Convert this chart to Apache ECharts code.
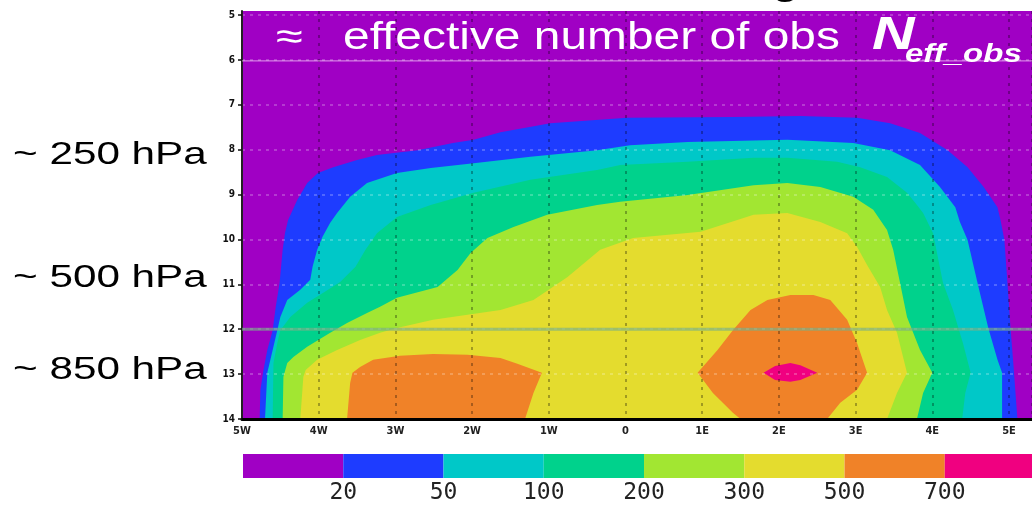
<!DOCTYPE html>
<html>
<head>
<meta charset="utf-8">
<script src="https://cdn.jsdelivr.net/npm/echarts@6/dist/echarts.min.js"></script>
<style>
  html, body { margin: 0; padding: 0; background: #fff; }
  #main { width: 1032px; height: 505px; }
</style>
</head>
<body>
<div id="main"></div>
<script>
// axis ticks
var lonTicks = [-5, -4, -3, -2, -1, 0, 1, 2, 3, 4, 5];
var lonLabels = ['5W', '4W', '3W', '2W', '1W', '0', '1E', '2E', '3E', '4E', '5E'];
var levelTicks = [5, 6, 7, 8, 9, 10, 11, 12, 13, 14];

// colour bar
var contourLevels = ['20', '50', '100', '200', '300', '500', '700'];
var binColors = ['#a000c4', '#1e3cff', '#00c8c8', '#00d28c', '#a2e632', '#e4dc2e', '#f08228', '#f00080'];

// contour outlines, [lon, model level]
var n20 = [[-4.77,14],[-4.76,13.35],[-4.72,12.91],[-4.67,12.46],[-4.60,12.02],[-4.56,11.50],[-4.51,10.97],[-4.47,10.23],
  [-4.44,9.86],[-4.40,9.57],[-4.28,9.12],[-4.15,8.74],[-4.01,8.52],[-3.81,8.39],[-3.50,8.23],[-3.24,8.12],[-2.71,8.01],
  [-2.25,7.85],[-1.98,7.78],[-1.63,7.61],[-0.98,7.41],[0.02,7.29],[1.40,7.27],[2.28,7.25],[3.02,7.29],[3.45,7.41],
  [3.84,7.63],[4.20,8.01],[4.46,8.39],[4.67,8.83],[4.85,9.28],[4.89,9.57],[4.94,10.01],[4.98,10.97],[5.02,11.97],
  [5.06,12.84],[5.11,14]];
var n50 = [[-4.70,14],[-4.67,12.97],[-4.60,12.46],[-4.54,12.02],[-4.50,11.73],[-4.41,11.35],[-4.24,11.12],[-4.11,10.90],
  [-4.08,10.61],[-4.02,10.23],[-3.95,9.94],[-3.85,9.63],[-3.76,9.41],[-3.59,9.05],[-3.37,8.74],[-2.98,8.52],[-2.54,8.41],
  [-1.98,8.30],[-1.24,8.16],[-0.37,8.01],[0.06,7.90],[0.81,7.83],[2.11,7.78],[2.97,7.85],[3.45,8.01],[3.84,8.34],
  [4.10,8.83],[4.30,9.28],[4.36,9.61],[4.46,10.01],[4.59,10.97],[4.73,11.97],[4.85,12.68],[4.91,12.97],[4.91,14]];
var n100 = [[-4.60,14],[-4.59,12.75],[-4.54,12.31],[-4.50,12.02],[-4.37,11.73],[-4.15,11.41],[-3.94,11.19],[-3.72,10.95],
  [-3.52,10.61],[-3.39,10.23],[-3.24,9.86],[-2.98,9.50],[-2.54,9.23],[-1.98,8.96],[-1.24,8.67],[-0.37,8.45],[-0.07,8.34],
  [0.81,8.27],[1.67,8.18],[2.11,8.18],[2.76,8.27],[3.06,8.39],[3.41,8.61],[3.67,8.96],[3.80,9.23],[3.88,9.41],
  [4.01,9.86],[4.14,10.97],[4.27,11.57],[4.40,12.31],[4.50,12.97],[4.43,13.42],[4.39,14]];
var n200 = [[-4.47,14],[-4.46,13.06],[-4.41,12.75],[-4.33,12.62],[-4.15,12.39],[-3.85,12.08],[-3.63,11.86],[-3.37,11.64],
  [-3.20,11.50],[-2.98,11.30],[-2.45,11.06],[-2.19,10.68],[-2.02,10.30],[-1.80,9.97],[-1.46,9.72],[-1.02,9.45],
  [-0.37,9.23],[-0.07,9.16],[0.81,9.01],[1.67,8.79],[2.11,8.74],[2.54,8.83],[2.97,9.05],[3.23,9.34],[3.41,9.79],
  [3.49,10.23],[3.58,10.97],[3.67,11.73],[3.84,12.46],[4.00,12.97],[3.88,13.42],[3.80,14]];
var n300 = [[-4.24,14],[-4.20,13.06],[-4.17,12.91],[-4.02,12.68],[-3.76,12.46],[-3.46,12.24],[-3.20,12.08],[-2.98,11.97],
  [-2.51,11.79],[-2.06,11.68],[-1.63,11.57],[-1.20,11.35],[-0.76,10.84],[-0.33,10.23],[0.10,9.97],[0.98,9.83],
  [1.67,9.45],[2.11,9.41],[2.54,9.61],[2.89,9.86],[3.02,10.17],[3.15,10.57],[3.32,11.06],[3.41,11.57],[3.54,12.08],
  [3.67,12.97],[3.54,13.42],[3.41,14]];
var n500west = [[-3.63,14],[-3.59,13.20],[-3.56,12.97],[-3.46,12.84],[-3.29,12.68],[-2.94,12.59],[-2.51,12.55],
  [-2.06,12.57],[-1.63,12.64],[-1.41,12.77],[-1.09,12.97],[-1.20,13.42],[-1.31,14]];
var n500east = [[1.50,14],[1.40,13.86],[1.14,13.42],[0.94,12.97],[1.20,12.46],[1.40,12.02],[1.63,11.57],[1.85,11.35],
  [2.15,11.24],[2.45,11.24],[2.67,11.35],[2.89,11.79],[3.02,12.31],[3.15,12.97],[3.02,13.35],[2.80,13.64],[2.63,14]];
var n700 = [[1.80,12.97],[1.95,12.82],[2.15,12.75],[2.28,12.80],[2.50,12.97],[2.28,13.13],[2.15,13.17],[1.95,13.13]];

// stray lines over the panel
var overlayLevels = [6.02, 12.0];

var myChart = echarts.init(document.getElementById('main'));

function polySeries(pts, color) {
    return {
        type: 'custom',
        xAxisIndex: 0,
        yAxisIndex: 0,
        silent: true,
        z: 1,
        data: pts,
        encode: { x: 0, y: 1 },
        renderItem: function (params, api) {
            if (params.dataIndex !== 0) return null;
            var points = pts.map(function (p) { return api.coord(p); });
            return { type: 'polygon', shape: { points: points }, style: { fill: color } };
        }
    };
}

var series = [
    polySeries(n20, binColors[1]),
    polySeries(n50, binColors[2]),
    polySeries(n100, binColors[3]),
    polySeries(n200, binColors[4]),
    polySeries(n300, binColors[5]),
    polySeries(n500west, binColors[6]),
    polySeries(n500east, binColors[6]),
    polySeries(n700, binColors[7])
];

// overlay lines
series.push({
    type: 'custom',
    xAxisIndex: 0,
    yAxisIndex: 0,
    silent: true,
    z: 10,
    data: overlayLevels.map(function (v, i) { return [i, v]; }),
    renderItem: function (params, api) {
        var lv = api.value(1);
        var a = api.coord([-5, lv]);
        var b = api.coord([5.3, lv]);
        var first = params.dataIndex === 0;
        return {
            type: 'line',
            shape: { x1: a[0], y1: a[1], x2: b[0], y2: b[1] },
            style: {
                stroke: first ? 'rgba(255,225,255,0.55)' : 'rgba(120,175,135,0.65)',
                lineWidth: first ? 1.2 : 3
            }
        };
    }
});

// colour bar (the last box runs off the right edge)
series.push({
    type: 'custom',
    xAxisIndex: 1,
    yAxisIndex: 1,
    silent: true,
    clip: false,
    data: binColors.map(function (c, i) { return [i, 0]; }),
    renderItem: function (params, api) {
        var i = api.value(0);
        var p0 = api.coord([i, 1]);
        var p1 = api.coord([i + 1, 0]);
        return {
            type: 'rect',
            shape: { x: p0[0], y: p0[1], width: p1[0] - p0[0], height: p1[1] - p0[1] },
            style: { fill: binColors[i] }
        };
    }
});

var slideFont = 'Liberation Sans, Arial, sans-serif';

myChart.setOption({
    animation: false,
    grid: [
        { left: 242, right: 0, top: 11, bottom: 86, show: true, backgroundColor: binColors[0], borderWidth: 0 },
        { left: 243, right: 0, top: 454, height: 24 }
    ],
    xAxis: [{
        gridIndex: 0,
        type: 'value',
        min: -5,
        max: 5.3,
        interval: 1,
        z: 5,
        axisLine: { show: true, onZero: false, lineStyle: { color: '#000', width: 3 } },
        axisTick: { show: false },
        axisLabel: {
            showMaxLabel: false,
            margin: 7,
            fontFamily: 'DejaVu Sans Condensed',
            fontWeight: 'bold',
            fontSize: 11,
            color: '#222',
            formatter: function (v) {
                var k = lonTicks.indexOf(v);
                return k < 0 ? '' : lonLabels[k];
            }
        },
        splitLine: { show: true, lineStyle: { color: 'rgba(0,0,0,0.4)', width: 1.5, type: [3, 5] } }
    }, {
        gridIndex: 1,
        type: 'value',
        min: 0,
        max: 7.87,
        interval: 1,
        axisLine: { show: false },
        axisTick: { show: false },
        splitLine: { show: false },
        axisLabel: {
            showMaxLabel: false,
            margin: 4,
            fontFamily: 'DejaVu Sans Mono',
            fontSize: 23,
            color: '#222',
            formatter: function (v) { return contourLevels[v - 1] || ''; }
        }
    }],
    yAxis: [{
        gridIndex: 0,
        type: 'value',
        inverse: true,
        min: 4.91,
        max: 14,
        z: 5,
        axisLine: { show: true, onZero: false, lineStyle: { color: '#222', width: 2 } },
        axisTick: { show: true, customValues: levelTicks, length: 4, lineStyle: { color: '#111', width: 1.5 } },
        axisLabel: {
            customValues: levelTicks,
            margin: 7,
            fontFamily: 'DejaVu Sans Condensed',
            fontWeight: 'bold',
            fontSize: 10,
            color: '#111'
        },
        splitLine: {
            show: true,
            customValues: levelTicks,
            lineStyle: { color: 'rgba(255,255,255,0.3)', width: 1.5, type: [3, 5] }
        }
    }, {
        gridIndex: 1,
        type: 'value',
        min: 0,
        max: 1,
        show: false
    }],
    graphic: [
        { type: 'text', x: 13, y: 155, scaleX: 1.32, silent: true,
          style: { text: '~ 250 hPa', font: '32px ' + slideFont, fill: '#000', verticalAlign: 'middle' } },
        { type: 'text', x: 13, y: 278, scaleX: 1.32, silent: true,
          style: { text: '~ 500 hPa', font: '32px ' + slideFont, fill: '#000', verticalAlign: 'middle' } },
        { type: 'text', x: 13, y: 370, scaleX: 1.32, silent: true,
          style: { text: '~ 850 hPa', font: '32px ' + slideFont, fill: '#000', verticalAlign: 'middle' } },
        { type: 'text', x: 772, y: -16, scaleX: 1.28, silent: true,
          style: { text: 'g', font: '38px ' + slideFont, fill: '#000', verticalAlign: 'middle' } },
        { type: 'text', x: 276, y: 39, scaleX: 1.28, silent: true, z: 20,
          style: { text: '\u2248', font: '38px ' + slideFont, fill: '#fff', verticalAlign: 'middle' } },
        { type: 'text', x: 343, y: 39, scaleX: 1.26, silent: true, z: 20,
          style: { text: 'effective number of obs', font: '38px ' + slideFont, fill: '#fff', verticalAlign: 'middle' } },
        { type: 'text', x: 872, y: 36, scaleX: 1.28, silent: true, z: 20,
          style: { text: 'N', font: 'italic bold 46px ' + slideFont, fill: '#fff', verticalAlign: 'middle' } },
        { type: 'text', x: 905, y: 55, scaleX: 1.27, silent: true, z: 20,
          style: { text: 'eff_obs', font: 'italic bold 26px ' + slideFont, fill: '#fff', verticalAlign: 'middle' } }
    ],
    series: series
});
</script>
</body>
</html>
